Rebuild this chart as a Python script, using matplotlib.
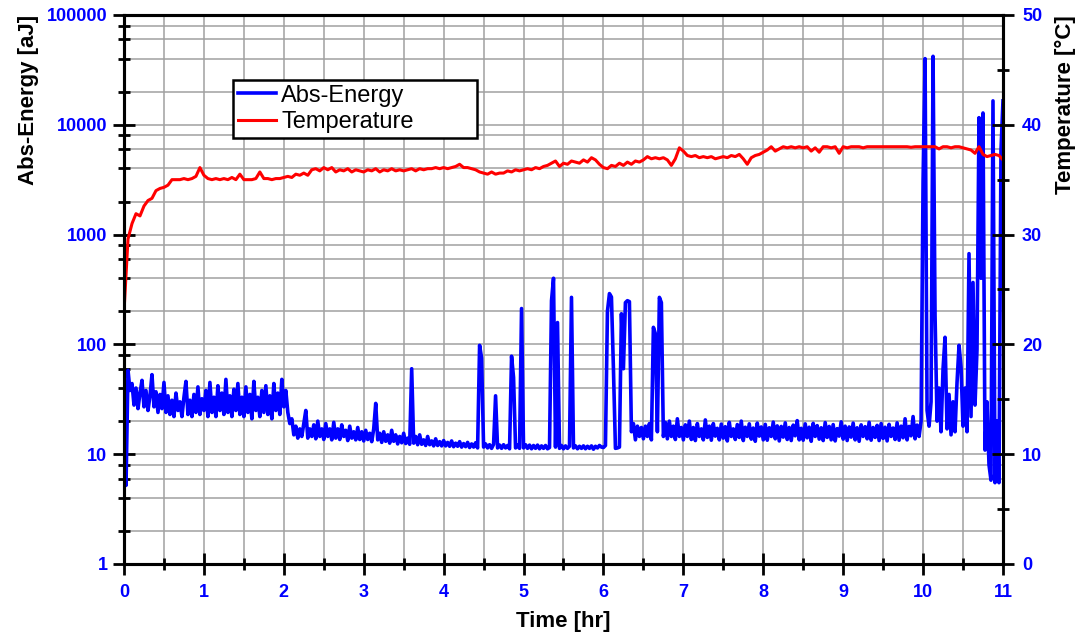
import matplotlib
matplotlib.use('Agg')
import matplotlib.pyplot as plt
from matplotlib.ticker import LogLocator, MultipleLocator, FuncFormatter, NullFormatter
import numpy as np

plt.rcParams['font.family'] = ['Liberation Sans', 'DejaVu Sans']
plt.rcParams['path.simplify'] = False

# sampling step of the two channels [hr]
energy_step = 0.025
temp_step = 0.05

# Abs-Energy [aJ], one row per half hour
energy = [
    10, 5.2, 58, 38, 44, 28, 40, 26, 36, 47, 27, 38, 25, 34, 53, 27, 37, 24, 35, 26,
    45, 24, 34, 23, 31, 22, 36, 25, 30, 22, 33, 46, 23, 31, 22, 35, 24, 41, 23, 32,
    25, 38, 22, 45, 24, 33, 22, 42, 25, 36, 23, 48, 24, 34, 22, 39, 25, 44, 23, 33,
    22, 41, 24, 35, 21, 46, 25, 33, 22, 38, 24, 42, 23, 34, 21, 44, 25, 36, 23, 48,
    27, 38, 24, 19, 21, 15, 18, 14, 17, 14.5, 19, 25, 14, 17, 14.5, 18.5, 13.8, 20, 14.5, 17,
    13.6, 19, 14.5, 17, 13.5, 19.5, 14, 17, 13.6, 18.5, 14.5, 16.5, 13.3, 18, 14, 16, 13.5, 17.5, 13.6, 16,
    13.2, 16.5, 13.6, 15.5, 13, 17, 29, 13.5, 15.5, 12.8, 16, 13.1, 15, 12.6, 16.5, 13.1, 15, 12.4, 14.5, 12.7,
    15.5, 12.5, 14, 12.3, 60, 12.6, 14.5, 12.2, 15, 12.3, 13.5, 12.0, 14.5, 12.2, 13.2, 11.9, 13.8, 12.0, 13, 11.9,
    13.3, 11.9, 12.8, 11.8, 13.2, 11.7, 12.6, 11.8, 13.0, 11.6, 12.5, 11.7, 12.8, 11.5, 12.4, 11.6, 12.7, 11.4, 98, 75,
    11.6, 12.4, 11.4, 12.2, 11.3, 12.3, 34, 11.4, 12.1, 11.3, 12.2, 11.4, 12.0, 11.2, 78, 50, 11.4, 12.1, 11.3, 212,
    11.4, 12.2, 11.3, 12.1, 11.2, 12.0, 11.3, 12.1, 11.2, 11.9, 11.3, 12.0, 11.2, 11.5, 250, 400, 11.6, 158, 11.3, 12.0,
    11.2, 11.9, 11.3, 11.8, 268, 11.4, 11.9, 11.2, 11.8, 11.3, 11.9, 11.2, 11.8, 11.3, 11.9, 11.1, 11.8, 11.4, 12.0, 11.6,
    11.5, 12.0, 200, 290, 270, 60, 11.3, 11.4, 11.6, 190, 60, 240, 250, 245, 16, 19, 13.5, 18, 14.5, 17.5,
    13.8, 18, 14.5, 19, 13.5, 143, 125, 16, 268, 240, 14.5, 19.5, 13.8, 20, 14.5, 18, 13.6, 21, 14.5, 17.5,
    13.5, 18.5, 14.5, 20, 13.6, 17.5, 13.3, 19, 14.5, 17, 13.5, 20.5, 14.2, 18, 13.4, 19, 14.6, 17.2, 13.5, 18.8,
    14, 17.8, 13.2, 19.5, 14.5, 17, 13.6, 18.6, 14.2, 20, 13.3, 17.6, 14.5, 18.9, 13.7, 17.3, 13.1, 19.2, 14.6, 17.7,
    13.5, 18.7, 13.4, 17.4, 14.5, 19.6, 13.8, 18.1, 13.2, 17.9, 14.3, 19.3, 13.6, 17.5, 13.3, 18.4, 14.7, 20.2, 13.5, 17.2,
    13.4, 18.9, 14.1, 17.6, 13.1, 19.1, 14.5, 18.2, 13.7, 17.4, 13.3, 19.4, 14.2, 17.9, 13.5, 18.6, 13.2, 17.1, 14.6, 19.7,
    13.7, 18, 13.3, 17.7, 14.3, 19.2, 13.5, 17.4, 13.1, 18.5, 14.5, 17.8, 13.8, 19.5, 13.4, 17.5, 14.2, 18.3, 13.3, 19,
    13.9, 17.6, 13.2, 18.7, 14.5, 17.3, 13.6, 19.3, 13.4, 18, 14.1, 21, 13.5, 17.9, 14.7, 22, 13.8, 18.4, 14.5, 20,
    3100, 40000, 25, 18, 30, 42000, 183, 20, 40, 16, 60, 116, 17, 35, 15, 30, 16, 45, 98, 62,
    18, 40, 16, 670, 22, 366, 28, 90, 11600, 400, 12800, 10.9, 30, 8, 5.8, 16500, 5.5, 20, 5.5, 5800,
    16500,
]

# Temperature [°C], one row per hour
temperature = [
    23.0, 29.6, 31.0, 31.9, 31.7, 32.6, 33.1, 33.3, 34.0, 34.2, 34.3, 34.5, 35.0, 35.0, 35.0, 35.1, 35.0, 35.1, 35.3, 36.1,
    35.4, 35.1, 35.0, 35.1, 35.0, 35.1, 35.0, 35.2, 35.0, 35.5, 35.0, 35.0, 35.0, 35.1, 35.7, 35.1, 35.1, 35.0, 35.1, 35.1,
    35.2, 35.3, 35.2, 35.5, 35.4, 35.6, 35.4, 35.9, 36.0, 35.8, 36.1, 35.9, 36.1, 35.7, 35.9, 35.8, 36.0, 35.7, 35.9, 35.8,
    35.7, 35.9, 35.8, 36.0, 35.7, 35.9, 35.8, 36.0, 35.8, 35.9, 35.8, 35.9, 36.0, 35.8, 36.0, 35.9, 36.0, 36.0, 36.1, 36.0,
    36.1, 36.0, 36.1, 36.2, 36.4, 36.1, 36.1, 36.0, 35.9, 35.7, 35.6, 35.5, 35.7, 35.5, 35.6, 35.6, 35.8, 35.7, 35.9, 35.8,
    35.9, 36.0, 35.9, 36.1, 36.0, 36.2, 36.3, 36.5, 36.7, 36.2, 36.5, 36.4, 36.7, 36.6, 36.5, 36.8, 36.6, 37.0, 36.8, 36.4,
    36.1, 36.0, 36.3, 36.2, 36.5, 36.3, 36.6, 36.4, 36.7, 36.6, 36.8, 37.1, 36.9, 37.0, 36.9, 37.0, 36.8, 36.3, 36.9, 37.9,
    37.6, 37.2, 37.1, 37.2, 37.0, 37.1, 37.0, 37.1, 36.9, 37.0, 37.1, 37.0, 37.2, 37.1, 37.3, 36.9, 36.4, 37.0, 37.2, 37.3,
    37.5, 37.7, 38.0, 37.6, 37.8, 38.0, 37.9, 38.0, 37.9, 38.0, 37.9, 38.0, 37.6, 37.9, 37.5, 38.0, 38.0, 37.9, 38.0, 37.4,
    38.0, 37.9, 38.0, 38.0, 38.0, 37.9, 38.0, 38.0, 38.0, 38.0, 38.0, 38.0, 38.0, 38.0, 38.0, 38.0, 38.0, 37.95, 38.0, 38.0,
    38.0, 38.0, 38.0, 38.0, 37.8, 38.0, 38.0, 37.9, 38.0, 38.0, 37.9, 37.8, 37.7, 37.4, 38.0, 37.3, 37.1, 37.2, 37.3, 37.2,
    36.8,
]

t_energy = np.arange(len(energy)) * energy_step
t_temp = np.arange(len(temperature)) * temp_step

blue = '#0000ff'
red = '#ff0000'

fig = plt.figure(figsize=(10.85, 6.39), dpi=100)
ax = fig.add_axes([0.1143, 0.1174, 0.8101, 0.8592])
ax2 = ax.twinx()

l1, = ax.plot(t_energy, energy, color=blue, lw=2.6)
l2, = ax2.plot(t_temp, temperature, color=red, lw=2.2)

# left log axis
ax.set_yscale('log')
ax.set_ylim(1, 1e5)
ax.set_xlim(0, 11)
ax.yaxis.set_major_locator(LogLocator(base=10, numticks=10))
ax.yaxis.set_minor_locator(LogLocator(base=10, subs=[2, 4, 6, 8], numticks=10))
ax.yaxis.set_major_formatter(FuncFormatter(lambda v, p: '%d' % round(v)))
ax.yaxis.set_minor_formatter(NullFormatter())
ax.xaxis.set_major_locator(MultipleLocator(1))
ax.xaxis.set_minor_locator(MultipleLocator(0.5))
ax.grid(which='both', color='#a0a0a0', lw=1.1)
ax.set_axisbelow(True)

ax.tick_params(which='major', direction='inout', length=15.8, width=2, labelsize=13, labelcolor=blue)
ax.tick_params(which='minor', direction='inout', length=8.6, width=2)
ax.tick_params(axis='x', which='major', pad=6.5)
ax.tick_params(axis='y', which='major', pad=4)
for lab in ax.get_xticklabels() + ax.get_yticklabels():
    lab.set_fontweight('bold')

# right linear axis
ax2.set_ylim(0, 50)
ax2.yaxis.set_major_locator(MultipleLocator(10))
ax2.yaxis.set_minor_locator(MultipleLocator(5))
ax2.tick_params(axis='y', which='major', direction='inout', length=15.8, width=2,
                labelsize=13, labelcolor=blue, pad=5.8)
ax2.tick_params(axis='y', which='minor', direction='inout', length=8.6, width=2)
for lab in ax2.get_yticklabels():
    lab.set_fontweight('bold')

for a in (ax, ax2):
    for s in a.spines.values():
        s.set_linewidth(2.2)

ax.set_xlabel('Time [hr]', fontsize=16, fontweight='bold', labelpad=7)
ax.set_ylabel('Abs-Energy [aJ]', fontsize=16, fontweight='bold', loc='top', labelpad=6)
ax2.set_ylabel('Temperature [°C]', fontsize=16, fontweight='bold', loc='top', labelpad=9)

leg = ax2.legend([l1, l2], ['Abs-Energy', 'Temperature'], loc='upper left',
                 bbox_to_anchor=(0.124, 0.785, 0.2776, 0.0965), mode='expand',
                 borderaxespad=0, fontsize=17, fancybox=False, edgecolor='black',
                 framealpha=1, handlelength=1.6, handletextpad=0.25,
                 borderpad=0.2, labelspacing=0.2)
leg.get_frame().set_linewidth(1.8)

fig.savefig('out.png', dpi=100)
